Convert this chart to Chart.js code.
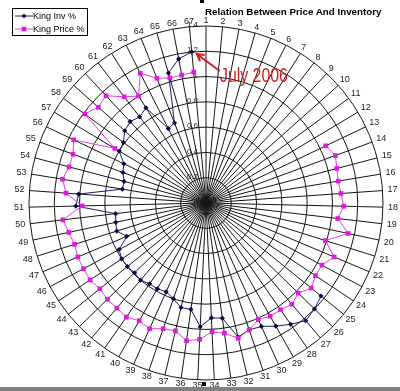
<!DOCTYPE html>
<html>
<head>
<meta charset="utf-8">
<script src="https://cdn.jsdelivr.net/npm/chart.js@4.4.1/dist/chart.umd.min.js"></script>
<style>
  html, body { margin: 0; padding: 0; background: #fff; }
  #wrap { position: relative; width: 400px; height: 391px; overflow: hidden; font-family: "Liberation Sans", Arial, sans-serif; }
  #chart { position: absolute; left: 0; top: 0; }
  #title { position: absolute; left: 205px; top: 6px; font-size: 9.8px; line-height: 12px; font-weight: bold; color: #000; white-space: nowrap; }
  #legend { position: absolute; left: 12px; top: 8px; width: 74px; height: 26px; border: 1px solid #000; background: #fff; }
  #legend span { position: absolute; left: 20px; font-size: 9px; line-height: 11px; color: #000; white-space: nowrap; }
  #legend svg { position: absolute; left: 2px; }
  #note { position: absolute; left: 220px; top: 64px; font-size: 21px; line-height: 21px; color: #d01c1c; white-space: nowrap; transform: scaleX(0.755); transform-origin: left top; }
  #bar { position: absolute; left: 0; top: 387px; width: 400px; height: 4px; background: #808080; }
  .handle { position: absolute; width: 4px; height: 4px; background: #000; }
</style>
</head>
<body>
<div id="wrap">
  <canvas id="chart" width="400" height="391"></canvas>
  <div id="title">Relation Between Price And Inventory</div>
  <div id="legend">
    <svg width="18" height="8" style="top:3px"><line x1="0" y1="4" x2="18" y2="4" stroke="#1c1c64" stroke-width="1"/><polygon points="9,1.5 11.5,4 9,6.5 6.5,4" fill="#0a0a4a"/></svg>
    <span style="top:2px">King Inv %</span>
    <svg width="18" height="8" style="top:16px"><line x1="0" y1="4" x2="18" y2="4" stroke="#e040e0" stroke-width="1"/><rect x="6.7" y="1.7" width="4.6" height="4.6" fill="#d81ed8"/></svg>
    <span style="top:15px">King Price %</span>
  </div>
  <div id="note">July 2006</div>
  <div id="bar"></div>
  <div class="handle" style="left:200px; top:-1px;"></div>
  <div class="handle" style="left:202px; top:382px;"></div>
</div>
<script>
const categories = ['1', '2', '3', '4', '5', '6', '7', '8', '9', '10',
  '11', '12', '13', '14', '15', '16', '17', '18', '19', '20',
  '21', '22', '23', '24', '25', '26', '27', '28', '29', '30',
  '31', '32', '33', '34', '35', '36', '37', '38', '39', '40',
  '41', '42', '43', '44', '45', '46', '47', '48', '49', '50',
  '51', '52', '53', '54', '55', '56', '57', '58', '59', '60',
  '61', '62', '63', '64', '65', '66', '67'];

// King Inv % - no data before category 25
const invValues = [null, null, null, null, null, null, null, null, null, null,
  null, null, null, null, null, null, null, null, null, null,
  null, null, null, null, 1.17, 1.20, 1.22, 1.17, 1.12, 1.07,
  1.06, 1.09, 0.92, 0.91, 0.98, 0.85, 0.85, 0.80, 0.77, 0.78,
  0.78, 0.80, 0.79, 0.80, 0.80, 0.78, 0.68, 0.74, 0.73, 0.72,
  1.03, 1.01, 0.67, 0.67, 0.70, 0.72, 0.80, 0.81, 0.86, 0.88,
  0.86, 0.89, 0.66, 0.68, 1.07, 1.16, 1.20];

// King Price % - no data before category 13
const priceValues = [null, null, null, null, null, null, null, null, null, null,
  null, null, 1.05, 1.09, 1.07, 1.06, 1.07, 1.09, 1.05, 1.15,
  0.99, 1.10, 1.04, 1.04, 1.07, 1.02, 1.05, 1.03, 1.03, 1.01,
  1.06, 1.10, 1.04, 1.02, 1.08, 1.10, 1.04, 1.05, 1.09, 1.07,
  1.10, 1.09, 1.09, 1.08, 1.10, 1.10, 1.10, 1.09, 1.11, 1.14,
  0.98, 1.11, 1.15, 1.12, 1.12, 1.16, 0.84, 1.19, 1.14, 1.16,
  1.06, 1.00, 1.15, 1.06, 1.03, 1.03, 1.04];

const tickLabels = ['0', '0.2', '0.4', '0.6', '0.8', '1', '1.2', '1.4'];

// axis numbers and category labels drawn like Excel does (left of the axis, outside the rim)
const excelLabels = {
    id: 'excelLabels',
    beforeDatasetsDraw(chart) {
        const r = chart.scales.r;
        const ctx = chart.ctx;
        ctx.save();
        ctx.fillStyle = '#222';
        ctx.textBaseline = 'middle';
        ctx.font = '8px "Liberation Sans", Arial, sans-serif';
        ctx.textAlign = 'right';
        r.ticks.forEach((t) => {
            const y = r.yCenter - r.getDistanceFromCenterForValue(t.value);
            ctx.fillText(t.label, r.xCenter - 8, y - 1);
        });
        ctx.font = '9px "Liberation Sans", Arial, sans-serif';
        ctx.textAlign = 'center';
        const n = chart.data.labels.length;
        chart.data.labels.forEach((lab, i) => {
            const a = i * 2 * Math.PI / n;
            const w = ctx.measureText(lab).width;
            const p = r.getPointPosition(i, r.drawingArea + 5 + Math.abs(Math.sin(a)) * w / 2);
            ctx.fillText(lab, p.x, p.y);
        });
        ctx.restore();
    },
    afterDraw(chart) {
        // red arrow pointing at the last inventory point
        const meta = chart.getDatasetMeta(0);
        const pt = meta.data[invValues.length - 1];
        const ctx = chart.ctx;
        const tip = { x: pt.x + 5, y: pt.y + 2 };
        const tail = { x: tip.x + 23, y: tip.y + 17 };
        const ang = Math.atan2(tail.y - tip.y, tail.x - tip.x);
        ctx.save();
        ctx.strokeStyle = '#d01c1c';
        ctx.lineWidth = 2;
        ctx.beginPath();
        ctx.moveTo(tail.x, tail.y);
        ctx.lineTo(tip.x, tip.y);
        ctx.moveTo(tip.x + 8 * Math.cos(ang - 0.5), tip.y + 8 * Math.sin(ang - 0.5));
        ctx.lineTo(tip.x, tip.y);
        ctx.lineTo(tip.x + 8 * Math.cos(ang + 0.5), tip.y + 8 * Math.sin(ang + 0.5));
        ctx.stroke();
        ctx.restore();
    }
};

const ctx = document.getElementById('chart');

new Chart(ctx, {
    type: 'radar',
    data: {
        labels: categories,
        datasets: [
            {
                label: 'King Inv %',
                data: invValues,
                order: 1,
                borderColor: '#1c1c64',
                borderWidth: 1,
                pointStyle: 'rectRot',
                pointRadius: 2.6,
                pointBackgroundColor: '#0a0a4a',
                pointBorderColor: '#0a0a4a',
                pointBorderWidth: 0,
                fill: false
            },
            {
                label: 'King Price %',
                data: priceValues,
                order: 0,
                borderColor: '#e040e0',
                borderWidth: 1,
                pointStyle: 'rect',
                pointRadius: 3.3,
                pointBackgroundColor: '#d81ed8',
                pointBorderColor: '#d81ed8',
                pointBorderWidth: 0,
                fill: false
            }
        ]
    },
    options: {
        responsive: false,
        animation: false,
        devicePixelRatio: 1,
        spanGaps: false,
        layout: {
            padding: { left: 29, right: 17, top: 26, bottom: 11 }
        },
        elements: {
            line: { tension: 0 }
        },
        plugins: {
            legend: { display: false },
            title: { display: false },
            tooltip: { enabled: false }
        },
        scales: {
            r: {
                min: 0,
                max: 1.4,
                startAngle: 0,
                ticks: {
                    display: false,
                    stepSize: 0.2,
                    callback: (v, i) => tickLabels[i]
                },
                grid: {
                    circular: true,
                    color: '#151515',
                    lineWidth: 1
                },
                angleLines: {
                    color: '#151515',
                    lineWidth: 1
                },
                pointLabels: { display: false }
            }
        }
    },
    plugins: [excelLabels]
});
</script>
</body>
</html>
